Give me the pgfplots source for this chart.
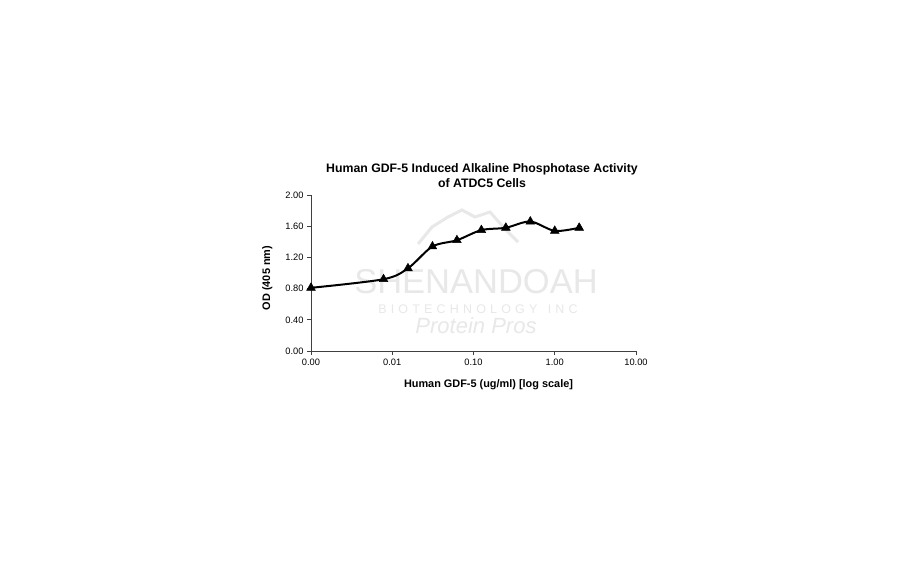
\documentclass[border=0pt]{standalone}
\usepackage{pgfplots}
\pgfplotsset{compat=1.18}
\usepackage{fontspec}
\setmainfont{Liberation Sans}
\begin{document}
\begin{tikzpicture}
\path[use as bounding box, fill=white] (0pt,0pt) rectangle (912pt,562pt);
% watermark
\node[text=black!9, font=\fontsize{34.5}{36}\selectfont, inner sep=0] at (476pt,280pt) {SHENANDOAH};
\node[text=black!9, font=\fontsize{12.5}{13}\selectfont, inner sep=0] at (478pt,253pt) {B\,\,I\,\,O\,\,T\,\,E\,\,C\,\,H\,\,N\,\,O\,\,L\,\,O\,\,G\,\,Y\ \ \ I\,\,N\,\,C};
\node[text=black!9, font=\itshape\fontsize{22}{24}\selectfont, inner sep=0] at (476pt,236pt) {Protein Pros};
\draw[black!9, line width=3pt] (418pt,318pt) -- (432pt,335pt) -- (448pt,345pt) -- (462pt,352pt) -- (475pt,345pt) -- (490pt,350pt) -- (505pt,333pt) -- (518pt,320pt);
% title
\node[font=\bfseries\fontsize{12.3}{15}\selectfont, align=center] at (482pt,386pt) {Human GDF-5 Induced Alkaline Phosphotase Activity\\of ATDC5 Cells};
\begin{axis}[
  at={(311pt,211pt)}, anchor=south west,
  scale only axis, width=325pt, height=156pt,
  xmode=log, xmin=0.001, xmax=10,
  xtick={0.001,0.01,0.1,1,10},
  xticklabels={0.00,0.01,0.10,1.00,10.00},
  xminorticks=false,
  ymin=0, ymax=2,
  ytick={0,0.4,0.8,1.2,1.6,2.0},
  yticklabels={0.00,0.40,0.80,1.20,1.60,2.00},
  axis x line*=bottom, axis y line*=left,
  axis line style={-, draw=black!75, line width=0.8pt},
  tick style={draw=black!75, line width=0.8pt},
  tick align=outside, major tick length=4pt,
  tick label style={font=\fontsize{9.3}{10}\selectfont},
  /pgf/number format/assume math mode=true,
  xlabel={Human GDF-5 (ug/ml) [log scale]},
  ylabel={OD (405 nm)},
  label style={font=\bfseries\fontsize{10.9}{12}\selectfont},
  xlabel style={yshift=-8pt, xshift=15pt},
  ylabel style={yshift=6pt, xshift=-5pt},
  clip=false,
]
\addplot[black, line width=2pt, smooth, tension=0.5, mark=triangle*, mark size=5pt, mark options={solid, line width=0.5pt}] coordinates {
(0.001,0.81)
(0.0078125,0.92)
(0.015625,1.06)
(0.03125,1.34)
(0.0625,1.42)
(0.125,1.55)
(0.25,1.58)
(0.5,1.66)
(1,1.54)
(2,1.58)
};
\end{axis}
\end{tikzpicture}
\end{document}
